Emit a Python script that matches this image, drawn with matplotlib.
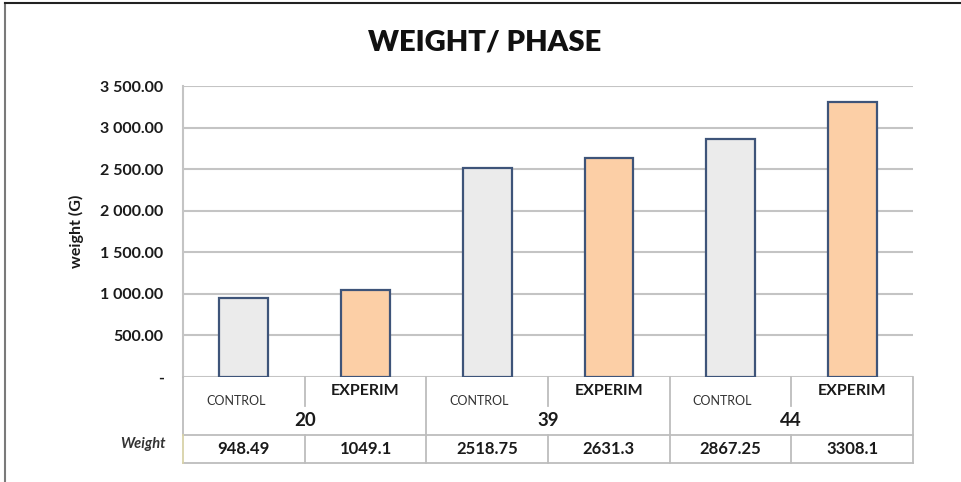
import matplotlib
matplotlib.use("Agg")
import matplotlib.pyplot as plt
from matplotlib.lines import Line2D
from matplotlib.ticker import FuncFormatter
import numpy as np

# ---- data ----
phases = ["20", "39", "44"]
groups = ["CONTROL", "EXPERIM"]
control_weight = [948.49, 2518.75, 2867.25]
experim_weight = [1049.1, 2631.3, 3308.1]
value_labels = ["948.49", "1049.1", "2518.75", "2631.3", "2867.25", "3308.1"]
y_ticks = [0, 500, 1000, 1500, 2000, 2500, 3000, 3500]

FONT = "Lato"
W, H = 961, 482
fig = plt.figure(figsize=(W / 100, H / 100), dpi=100)
fig.patch.set_facecolor("white")

def fx(px):
    return px / W

def fy(py):
    return 1 - py / H

ax_left, ax_right, ax_top, ax_bottom = 183, 913, 86, 377
ax = fig.add_axes([fx(ax_left), fy(ax_bottom), fx(ax_right - ax_left),
                   (ax_bottom - ax_top) / H])

# interleave control / experimental bars per phase
heights = []
colors = []
for c, e in zip(control_weight, experim_weight):
    heights += [c, e]
    colors += ["#EBEBEB", "#FCCFA6"]
xpos = np.arange(len(heights))
ax.bar(xpos, heights, width=0.4, color=colors, edgecolor="#3E5479",
       linewidth=1.6, zorder=3)

ax.set_xlim(-0.5, len(heights) - 0.5)
ax.set_ylim(0, 3500)
ax.set_yticks(y_ticks)

def fmt(v, pos):
    if v == 0:
        return "-"
    return f"{v:,.2f}".replace(",", " ")

ax.yaxis.set_major_formatter(FuncFormatter(fmt))
ax.tick_params(axis="y", length=0, pad=14, labelsize=11.5, labelcolor="#1A1A1A")
for lab in ax.get_yticklabels():
    lab.set_fontweight("bold")
    lab.set_fontfamily(FONT)
ax.set_xticks([])
ax.grid(axis="y", color="#C4C4C4", linewidth=1.5, zorder=0)
for side in ["top", "right", "bottom"]:
    ax.spines[side].set_visible(False)
ax.spines["left"].set_color("#C4C4C4")
ax.spines["left"].set_linewidth(1.5)

ax.set_ylabel("weight (G)", fontsize=11.5, fontweight="bold", family=FONT,
              labelpad=12, color="#1A1A1A")

# ---- data table under the axis ----
line_kw = dict(color="#BDBDBD", linewidth=1.3)
row1_bottom, row2_bottom, split_bottom = 435, 463, 406
col_w = (ax_right - ax_left) / len(heights)
col_edges = [ax_left + i * col_w for i in range(len(heights) + 1)]

def hline(y, x0, x1):
    fig.add_artist(Line2D([fx(x0), fx(x1)], [fy(y), fy(y)], **line_kw))

def vline(x, y0, y1, **kw):
    k = dict(line_kw)
    k.update(kw)
    fig.add_artist(Line2D([fx(x), fx(x)], [fy(y0), fy(y1)], **k))

hline(row1_bottom, ax_left, ax_right)
hline(row2_bottom, ax_left, ax_right)
for i, xe in enumerate(col_edges):
    if i == 0:
        vline(xe, ax_bottom, row1_bottom)
        vline(xe, row1_bottom, row2_bottom, color="#D8D2A8")
    elif i % 2 == 0:
        vline(xe, ax_bottom, row2_bottom)
    else:
        vline(xe, ax_bottom, split_bottom)
        vline(xe, row1_bottom, row2_bottom)

for i in range(len(heights)):
    cx = col_edges[i] + col_w / 2
    if i % 2 == 0:
        fig.text(fx(cx - 8), fy(401), groups[0], ha="center", va="center",
                 fontsize=9, family=FONT, color="#333333")
    else:
        fig.text(fx(cx), fy(391), groups[1], ha="center", va="center",
                 fontsize=11.5, fontweight="bold", family=FONT, color="#1A1A1A")
    fig.text(fx(cx), fy(449), value_labels[i], ha="center", va="center",
             fontsize=12, fontweight="bold", family=FONT, color="#1A1A1A")

for g, ph in enumerate(phases):
    cx = col_edges[2 * g + 1]
    fig.text(fx(cx), fy(421), ph, ha="center", va="center", fontsize=13.5,
             fontweight="bold", family=FONT, color="#1A1A1A")

fig.text(fx(143), fy(444), "Weight", ha="center", va="center", fontsize=10.5,
         fontweight="bold", fontstyle="italic", family=FONT, color="#333333")

fig.text(fx(485), fy(43), "WEIGHT/ PHASE", ha="center", va="center",
         fontsize=21, fontweight="heavy", family=FONT, color="#111111")

# outer frame
fig.add_artist(Line2D([fx(5), fx(5)], [fy(3), fy(482)], color="#7A7A7A",
                      linewidth=1.5))
fig.add_artist(Line2D([fx(5), fx(961)], [fy(3), fy(3)], color="#222222",
                      linewidth=1.5))

fig.savefig("out.png", dpi=100, facecolor="white")
